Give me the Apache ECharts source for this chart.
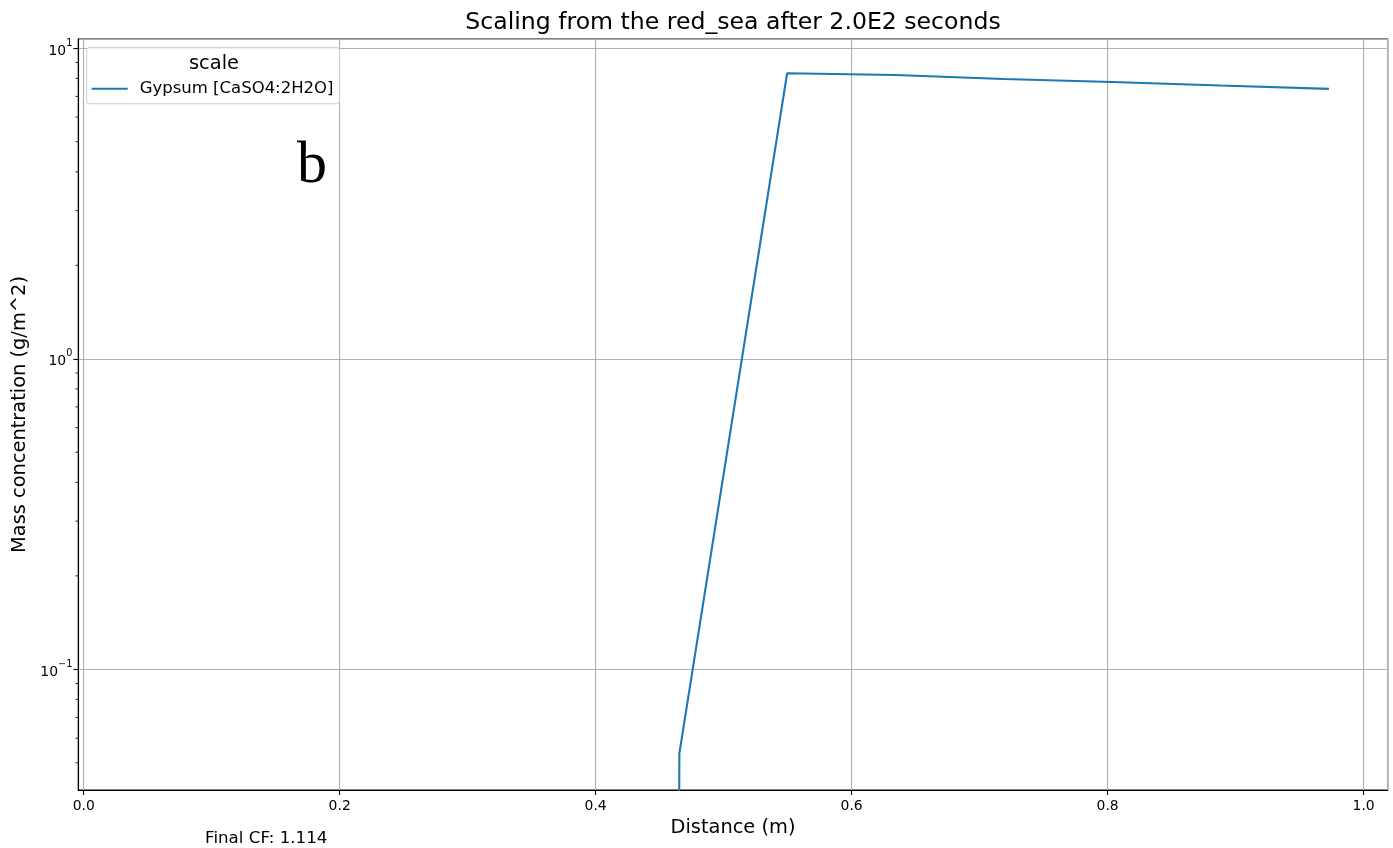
<!DOCTYPE html>
<html>
<head>
<meta charset="utf-8">
<title>Scaling from the red_sea</title>
<script src="https://cdn.jsdelivr.net/npm/echarts@6/dist/echarts.min.js"></script>
<style>
  html, body { margin: 0; padding: 0; background: #fff; }
  #main { width: 1393px; height: 848px; }
</style>
</head>
<body>
<div id="main"></div>
<script>
// cell centres along the column (m)
var distance = [0.0423, 0.1269, 0.2115, 0.2961, 0.3807, 0.4654, 0.5496, 0.6342, 0.7188, 0.8034, 0.8882, 0.9729];
// gypsum mass concentration (g/m^2), 0 = nothing precipitated
var gypsum = [0, 0, 0, 0, 0, 0.0536, 8.31, 8.20, 7.96, 7.79, 7.59, 7.40];
// minor ticks on the log axis
var yMinorTicks = [0.05, 0.06, 0.07, 0.08, 0.09,
                   0.2, 0.3, 0.4, 0.5, 0.6, 0.7, 0.8, 0.9,
                   2, 3, 4, 5, 6, 7, 8, 9];
var seriesName = 'Gypsum [CaSO4:2H2O]';
var legendTitle = 'scale';
var chartTitle = 'Scaling from the red_sea after 2.0E2 seconds';
var finalCF = 'Final CF: 1.114';

var X_MIN = -0.0042, X_MAX = 1.0188;
var Y_MIN = 0.04087, Y_MAX = 10.71;
var LOG_FLOOR = 1e-100; // like matplotlib clipping non-positive values on a log axis

var FONT = 'DejaVu Sans';

var lineData = distance.map(function (x, i) {
  return [x, gypsum[i] > 0 ? gypsum[i] : LOG_FLOOR];
});

var chart = echarts.init(document.getElementById('main'));

chart.setOption({
  animation: false,
  backgroundColor: '#fff',
  textStyle: { fontFamily: FONT },
  grid: {
    left: 78.3, right: 5.3, top: 39, bottom: 58,
    show: true, borderColor: '#000', borderWidth: 1.1,
    containLabel: false, outerBoundsMode: 'none'
  },
  legend: {
    data: [seriesName],
    left: 86.7, top: 47.3,
    padding: [33, 6, 6.5, 5],
    icon: 'rect',
    itemWidth: 36, itemHeight: 2,
    borderColor: '#cccccc', borderWidth: 1, borderRadius: 3,
    backgroundColor: 'rgba(255,255,255,0.8)',
    textStyle: { fontFamily: FONT, fontSize: 16.5, color: '#000', padding: [0, 0, 0, 7] }
  },
  xAxis: {
    type: 'value', min: X_MIN, max: X_MAX, splitNumber: 5,
    axisLine: { show: true, onZero: false, lineStyle: { color: '#000', width: 1.1 } },
    axisTick: { show: true, length: 4.9, lineStyle: { color: '#000', width: 1.1 } },
    axisLabel: {
      margin: 9, showMinLabel: false, showMaxLabel: false,
      color: '#000', fontFamily: FONT, fontSize: 13.9,
      formatter: function (v) { return v.toFixed(1); }
    },
    splitLine: { show: true, lineStyle: { color: '#b0b0b0', width: 1.1 } },
    name: 'Distance (m)', nameLocation: 'middle', nameGap: 28,
    nameTextStyle: { color: '#000', fontFamily: FONT, fontSize: 19.4 }
  },
  yAxis: {
    type: 'log', logBase: 10, min: Y_MIN, max: Y_MAX,
    axisLine: { show: true, onZero: false, lineStyle: { color: '#000', width: 1.1 } },
    axisTick: { show: true, length: 4.9, lineStyle: { color: '#000', width: 1.1 } },
    axisLabel: {
      margin: 6, showMinLabel: false, showMaxLabel: false,
      color: '#000',
      formatter: function (v) {
        var e = Math.log10(v);
        var r = Math.round(e);
        if (Math.abs(e - r) > 1e-6) return '';
        return '{b|10}{s|' + (r < 0 ? '\u2212' + (-r) : r) + '}';
      },
      rich: {
        b: { fontFamily: FONT, fontSize: 13.9, color: '#000', verticalAlign: 'bottom', lineHeight: 20 },
        s: { fontFamily: FONT, fontSize: 9.7, color: '#000', verticalAlign: 'top', lineHeight: 20 }
      }
    },
    splitLine: { show: true, lineStyle: { color: '#b0b0b0', width: 1.1 } },
    name: 'Mass concentration (g/m^2)', nameLocation: 'middle', nameGap: 42,
    nameTextStyle: { color: '#000', fontFamily: FONT, fontSize: 19.4 }
  },
  series: [
    {
      name: seriesName,
      type: 'line',
      data: lineData,
      showSymbol: false,
      clip: true,
      z: 3,
      lineStyle: { color: '#1f77b4', width: 2.1 },
      itemStyle: { color: '#1f77b4' }
    },
    {
      type: 'custom',
      silent: true,
      clip: false,
      z: 4,
      data: yMinorTicks.map(function (v) { return [X_MIN, v]; }),
      renderItem: function (params, api) {
        var p = api.coord([api.value(0), api.value(1)]);
        return {
          type: 'line',
          shape: { x1: p[0] - 2.8, y1: p[1], x2: p[0], y2: p[1] },
          style: { stroke: '#000', lineWidth: 0.85 }
        };
      }
    }
  ],
  graphic: [
    {
      type: 'text', x: 733, y: 23,
      style: { text: chartTitle, font: '23.6px "DejaVu Sans"', fill: '#000', textAlign: 'center', textVerticalAlign: 'middle' }
    },
    {
      type: 'text', x: 214, y: 63.5, z: 100,
      style: { text: legendTitle, font: '19.4px "DejaVu Sans"', fill: '#000', textAlign: 'center', textVerticalAlign: 'middle' }
    },
    {
      type: 'text', x: 312, y: 166,
      style: { text: 'b', font: '60px "Liberation Serif"', fill: '#000', textAlign: 'center', textVerticalAlign: 'middle' }
    },
    {
      type: 'text', x: 205, y: 839,
      style: { text: finalCF, font: '16.7px "DejaVu Sans"', fill: '#000', textAlign: 'left', textVerticalAlign: 'middle' }
    }
  ]
});
</script>
</body>
</html>
